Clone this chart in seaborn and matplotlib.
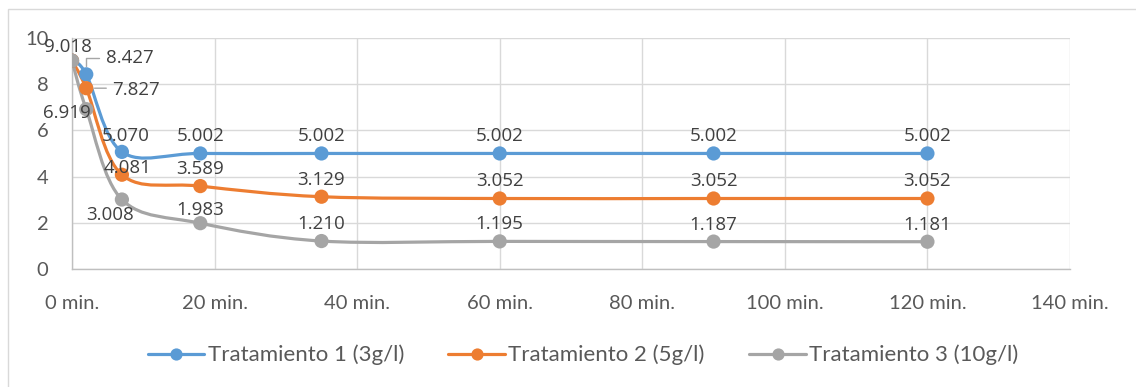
import matplotlib
matplotlib.use("Agg")
import matplotlib.pyplot as plt
from matplotlib.path import Path
from matplotlib.patches import PathPatch, Rectangle
from matplotlib.lines import Line2D
import numpy as np
import pandas as pd
import seaborn as sns

# Sampling times (minutes) and measured values for each treatment
minutes = [0, 2, 7, 18, 35, 60, 90, 120]
trat1 = [9.018, 8.427, 5.070, 5.002, 5.002, 5.002, 5.002, 5.002]
trat2 = [9.018, 7.827, 4.081, 3.589, 3.129, 3.052, 3.052, 3.052]
trat3 = [9.018, 6.919, 3.008, 1.983, 1.210, 1.195, 1.187, 1.181]
series_names = ["Tratamiento 1 (3g/l)", "Tratamiento 2 (5g/l)", "Tratamiento 3 (10g/l)"]
x_ticks = [0, 20, 40, 60, 80, 100, 120, 140]
x_tick_labels = ["0 min.", "20 min.", "40 min.", "60 min.", "80 min.", "100 min.", "120 min.", "140 min."]
y_ticks = [0, 2, 4, 6, 8, 10]

colors = ["#5B9BD5", "#ED7D31", "#A5A5A5"]

sns.set_theme(style="white")
plt.rcParams["font.family"] = ["Lato", "DejaVu Sans"]

df = pd.DataFrame({
    "min": minutes * 3,
    "valor": trat1 + trat2 + trat3,
    "serie": sum([[n] * len(minutes) for n in series_names], []),
})

W, H, DPI = 1136, 387, 100
fig = plt.figure(figsize=(W / DPI, H / DPI), dpi=DPI)
fig.patch.set_facecolor("white")
ax = fig.add_axes([72 / W, 1 - 269 / H, (1070 - 72) / W, (269 - 38) / H])

# outer chart frame
fig.patches.append(Rectangle((8 / W, -0.1), 1.2, 1 - 9 / H + 0.1, transform=fig.transFigure,
                             fill=False, edgecolor="#D9D9D9", linewidth=1.0, zorder=0))


def smooth_path(xs, ys):
    """Cubic Bezier path through the points (Catmull-Rom style control points)."""
    pts = np.column_stack([xs, ys]).astype(float)
    n = len(pts)
    verts = [pts[0]]
    codes = [Path.MOVETO]
    for i in range(n - 1):
        p_prev = pts[i - 1] if i > 0 else pts[i]
        p0 = pts[i]
        p1 = pts[i + 1]
        p_next = pts[i + 2] if i + 2 < n else pts[i + 1]
        c1 = p0 + (p1 - p_prev) / 6.0
        c2 = p1 - (p_next - p0) / 6.0
        verts += [c1, c2, p1]
        codes += [Path.CURVE4] * 3
    return Path(verts, codes)


for name, ys, c in zip(series_names, [trat1, trat2, trat3], colors):
    ax.add_patch(PathPatch(smooth_path(minutes, ys), facecolor="none", edgecolor=c,
                           linewidth=2.3, capstyle="round", joinstyle="round", zorder=3))

sns.scatterplot(data=df, x="min", y="valor", hue="serie", palette=colors, s=105,
                edgecolor="none", linewidth=0, legend=False, ax=ax, zorder=4)

ax.set_xlim(0, 140)
ax.set_ylim(0, 10)
ax.set_xticks(x_ticks)
ax.set_xticklabels(x_tick_labels)
ax.set_yticks(y_ticks)
ax.grid(True, color="#D9D9D9", linewidth=1.0)
ax.set_axisbelow(True)
for s in ["top", "right"]:
    ax.spines[s].set_visible(False)
for s in ["left", "bottom"]:
    ax.spines[s].set_color("#BFBFBF")
    ax.spines[s].set_linewidth(1.0)
ax.tick_params(axis="both", length=0, labelsize=14.5, labelcolor="#595959")
ax.tick_params(axis="y", pad=17)
ax.tick_params(axis="x", pad=19)
ax.set_xlabel("")
ax.set_ylabel("")

# data labels: (dx, dy) offsets in pixels from each point
label_font = dict(fontsize=13.5, color="#404040", family=["Open Sans", "DejaVu Sans"])
default_off = (0, 17)
offsets = {
    (0, 0): (-4, 14),
    (0, 1): (44, 16),
    (0, 2): (4, 16),
    (1, 1): (50, -2),
    (1, 2): (6, 7),
    (2, 1): (-19, -4),
    (2, 2): (-12, -15),
    (2, 3): (0, 13),
}
for si, ys in enumerate([trat1, trat2, trat3]):
    for pi, (xv, yv) in enumerate(zip(minutes, ys)):
        if pi == 0 and si > 0:
            continue
        dx, dy = offsets.get((si, pi), default_off)
        ax.annotate(f"{yv:.3f}", (xv, yv), xytext=(dx * 0.72, dy * 0.72),
                    textcoords="offset points", ha="center", va="center",
                    zorder=5, **label_font)

# leader lines for the two crowded labels near the start
ax.annotate("", (minutes[1], trat1[1]), xytext=(13 * 0.72, 16 * 0.72), textcoords="offset points",
            arrowprops=dict(arrowstyle="-", color="#A6A6A6", lw=1.0,
                            connectionstyle="angle,angleA=0,angleB=90,rad=0",
                            shrinkA=0, shrinkB=6), zorder=2)
ax.annotate("", (minutes[1], trat2[1]), xytext=(20 * 0.72, 0), textcoords="offset points",
            arrowprops=dict(arrowstyle="-", color="#A6A6A6", lw=1.0, shrinkA=0, shrinkB=6), zorder=2)

handles = [Line2D([0], [0], color=c, lw=2.3, marker="o", markersize=8.8, markeredgewidth=0)
           for c in colors]
fig.legend(handles, series_names, loc="center", bbox_to_anchor=(583 / W, 1 - 355 / H),
           ncol=3, frameon=False, fontsize=16, labelcolor="#595959", handlelength=2.55,
           handletextpad=0.15, columnspacing=2.0)

fig.savefig("out.png", dpi=DPI, facecolor="white")
